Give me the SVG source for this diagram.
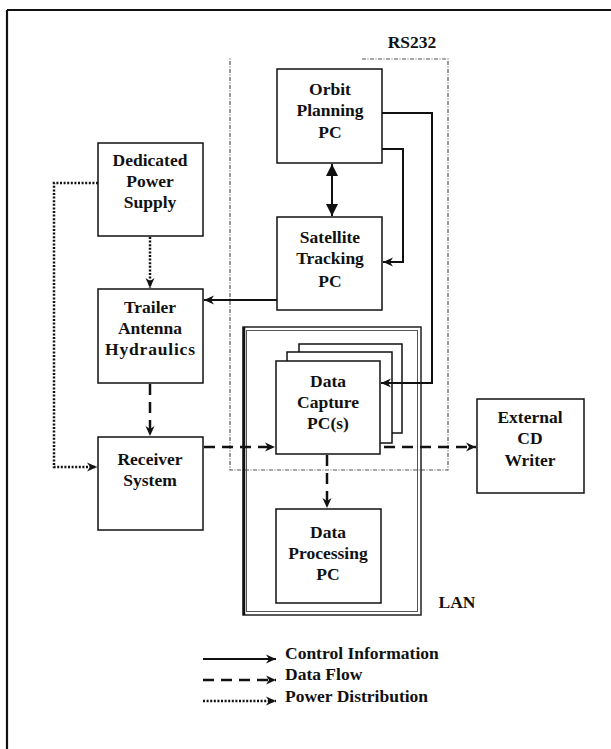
<svg xmlns="http://www.w3.org/2000/svg" width="611" height="749" viewBox="0 0 611 749">
<style>
.box{fill:#fff;stroke:#111;stroke-width:1.5}
.t{font-family:"Liberation Serif","Times New Roman",serif;font-weight:bold;font-size:17.5px;fill:#111;text-anchor:middle}
.lg{font-family:"Liberation Serif","Times New Roman",serif;font-weight:bold;font-size:17.5px;fill:#111}
.ctl{fill:none;stroke:#111;stroke-width:2}
.dat{fill:none;stroke:#111;stroke-width:2.5;stroke-dasharray:11 7}
.pwr{fill:none;stroke:#111;stroke-width:2.5;stroke-dasharray:2 1.6}
.grp{fill:none;stroke:#555;stroke-width:1.2;stroke-dasharray:4 1.5 1 1.5}
</style>
<defs>
<marker id="ah" markerUnits="userSpaceOnUse" markerWidth="11" markerHeight="10" refX="10" refY="5" orient="auto">
<path d="M0,0.5 L10,5 L0,9.5 L3,5 z" fill="#111"/>
</marker>
<marker id="big" markerUnits="userSpaceOnUse" markerWidth="13" markerHeight="13" refX="12" refY="6.5" orient="auto-start-reverse">
<path d="M0,0.5 L12,6.5 L0,12.5 z" fill="#111"/>
</marker>
</defs>
<rect width="611" height="749" fill="#fff"/>
<g id="frame">
<path d="M7,10 H611 M7,10 V749" fill="none" stroke="#111" stroke-width="2.2"/>
</g>
<g id="rs232">
<path class="grp" d="M362,59 H448 V470 H230 V58"/>
<text class="t" x="412" y="48">RS232</text>
</g>
<g id="lan">
<rect x="243" y="327" width="178" height="288" fill="none" stroke="#222" stroke-width="1.5"/>
<rect x="246.5" y="330.5" width="171" height="281" fill="none" stroke="#555" stroke-width="1"/>
<line x1="244" y1="327" x2="244" y2="615" stroke="#111" stroke-width="2.5"/>
<text class="t" x="457" y="608">LAN</text>
</g>
<g id="orbit">
<rect class="box" x="277" y="69" width="105" height="94"/>
<text class="t" x="330" y="95">Orbit</text>
<text class="t" x="330" y="116">Planning</text>
<text class="t" x="330" y="138">PC</text>
</g>
<g id="satellite">
<rect class="box" x="277" y="217" width="105" height="93"/>
<text class="t" x="330" y="243">Satellite</text>
<text class="t" x="330" y="264">Tracking</text>
<text class="t" x="330" y="287">PC</text>
</g>
<g id="power">
<rect class="box" x="98" y="143" width="105" height="93"/>
<text class="t" x="150" y="166">Dedicated</text>
<text class="t" x="150" y="187">Power</text>
<text class="t" x="150" y="208">Supply</text>
</g>
<g id="trailer">
<rect class="box" x="98" y="289" width="105" height="94"/>
<text class="t" x="150" y="313">Trailer</text>
<text class="t" x="150" y="334">Antenna</text>
<text class="t" x="150" y="355" textLength="90" lengthAdjust="spacing">Hydraulics</text>
</g>
<g id="receiver">
<rect class="box" x="98" y="437" width="105" height="93"/>
<text class="t" x="150" y="465">Receiver</text>
<text class="t" x="150" y="486">System</text>
</g>
<g id="capture">
<rect class="box" x="299" y="344" width="103" height="89" stroke-width="1.2"/>
<rect class="box" x="287" y="352" width="105" height="91" stroke-width="1.2"/>
<rect class="box" x="276" y="361" width="104" height="93" stroke-width="2"/>
<text class="t" x="328" y="387">Data</text>
<text class="t" x="328" y="408">Capture</text>
<text class="t" x="328" y="429">PC(s)</text>
</g>
<g id="processing">
<rect class="box" x="276" y="509" width="105" height="94"/>
<text class="t" x="328" y="538">Data</text>
<text class="t" x="328" y="559">Processing</text>
<text class="t" x="328" y="580">PC</text>
</g>
<g id="cdwriter">
<rect class="box" x="477" y="399" width="107" height="94"/>
<text class="t" x="530" y="423">External</text>
<text class="t" x="530" y="444">CD</text>
<text class="t" x="530" y="466">Writer</text>
</g>
<g id="connectors">
<path class="pwr" d="M98,183 H54 V467 H97" marker-end="url(#ah)"/>
<path class="pwr" d="M150,237 V288" marker-end="url(#ah)"/>
<path class="dat" d="M150,384 V436" marker-end="url(#ah)"/>
<path class="ctl" d="M277,300 H204" marker-end="url(#ah)"/>
<path class="ctl" d="M332,164 V216" stroke-width="1.5" marker-start="url(#big)" marker-end="url(#big)"/>
<path class="ctl" d="M382,149 H403 V262 H383" marker-end="url(#ah)"/>
<path class="ctl" d="M382,113 H432 V383 H381" marker-end="url(#ah)"/>
<path class="dat" d="M204,447 H275" marker-end="url(#ah)"/>
<path class="dat" d="M384,447 H476" marker-end="url(#ah)"/>
<path class="dat" d="M327,455 V508" marker-end="url(#ah)"/>
</g>
<g id="legend">
<path class="ctl" d="M203,659 H276" marker-end="url(#ah)"/>
<path class="dat" d="M203,680 H276" stroke-width="2" stroke-dasharray="7 6" marker-end="url(#ah)"/>
<path class="pwr" d="M203,701 H276" marker-end="url(#ah)"/>
<text class="lg" x="285" y="659">Control Information</text>
<text class="lg" x="285" y="680">Data Flow</text>
<text class="lg" x="285" y="702">Power Distribution</text>
</g>
</svg>
